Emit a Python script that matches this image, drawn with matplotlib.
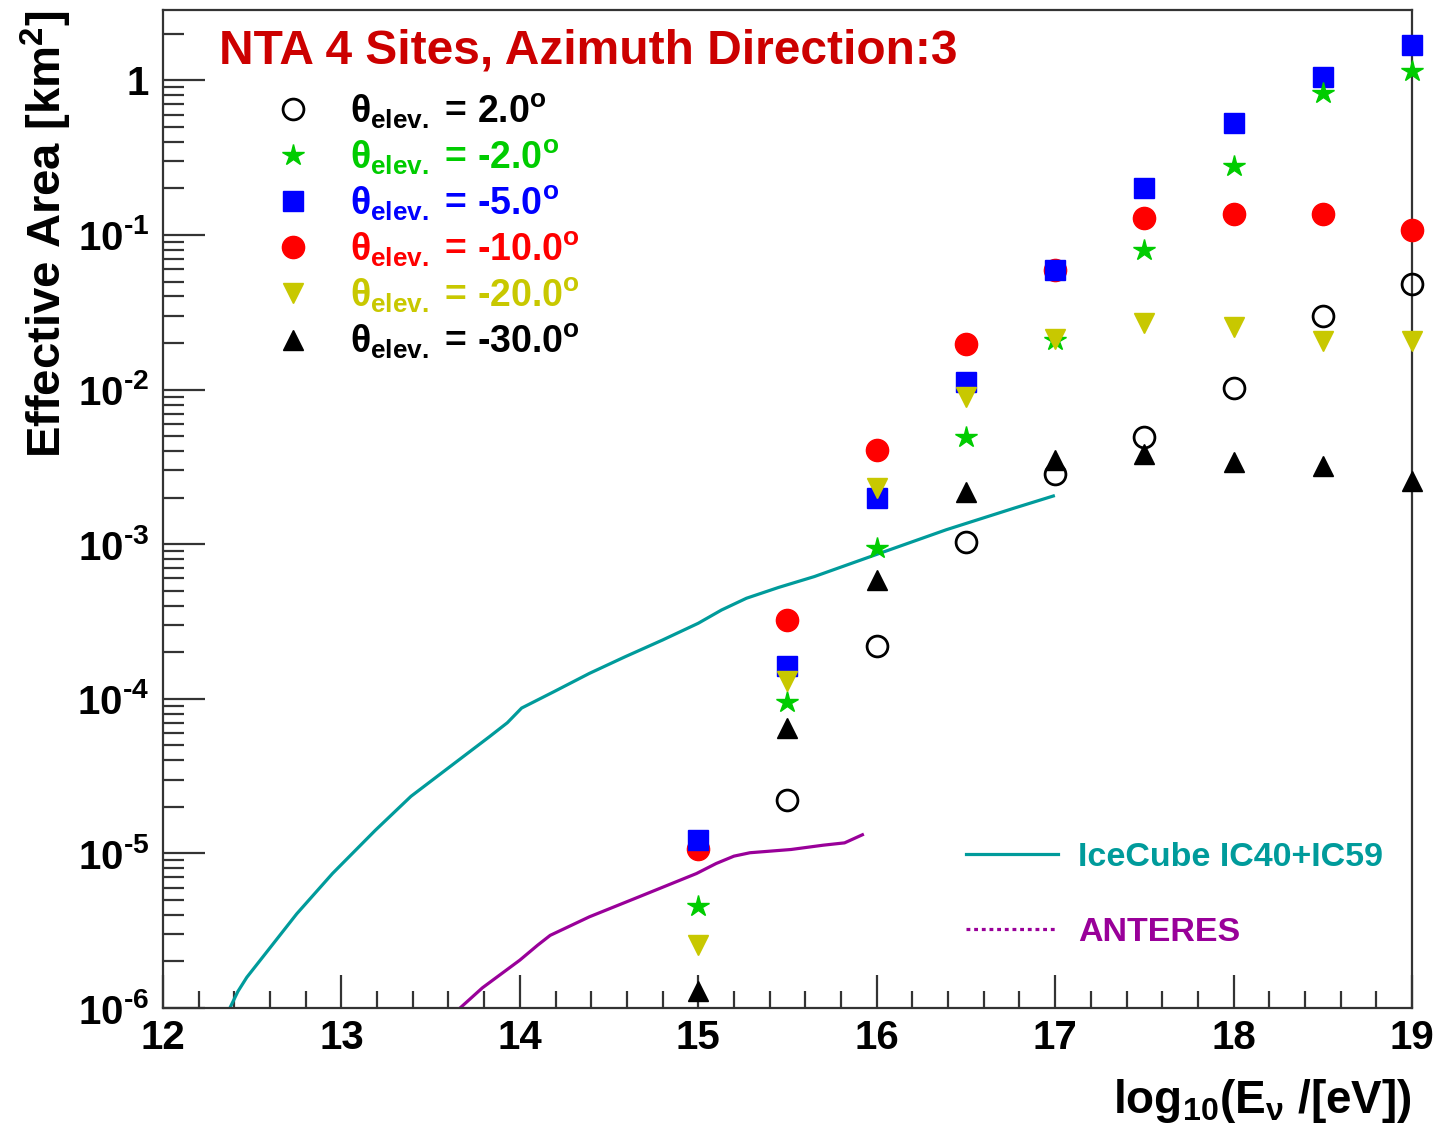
import matplotlib
matplotlib.use("Agg")
import matplotlib.pyplot as plt
from matplotlib.lines import Line2D
from matplotlib.ticker import FixedLocator, FuncFormatter, NullFormatter
import numpy as np

plt.rcParams['font.family'] = ['Liberation Sans', 'DejaVu Sans']
plt.rcParams['font.weight'] = 'bold'
plt.rcParams['axes.labelweight'] = 'bold'
plt.rcParams['axes.unicode_minus'] = False
plt.rcParams['mathtext.fontset'] = 'custom'
plt.rcParams['mathtext.rm'] = 'Liberation Sans:bold'
plt.rcParams['mathtext.it'] = 'Liberation Sans:bold'
plt.rcParams['mathtext.bf'] = 'Liberation Sans:bold'
plt.rcParams['mathtext.sf'] = 'Liberation Sans:bold'

# log10(E_nu / eV)
energy = [15.0, 15.5, 16.0, 16.5, 17.0, 17.5, 18.0, 18.5, 19.0]

# effective area [km^2] per elevation angle
area_p2 = [np.nan, 2.2e-5, 2.2e-4, 1.03e-3, 2.84e-3, 4.9e-3, 1.03e-2, 3.0e-2, 4.8e-2]
area_m2 = [4.6e-6, 9.5e-5, 9.4e-4, 4.9e-3, 2.1e-2, 8.0e-2, 0.28, 0.83, 1.15]
area_m5 = [1.22e-5, 1.63e-4, 2.0e-3, 1.12e-2, 5.9e-2, 0.20, 0.53, 1.05, 1.69]
area_m10 = [1.07e-5, 3.24e-4, 4.06e-3, 1.97e-2, 5.9e-2, 0.129, 0.137, 0.137, 0.108]
area_m20 = [2.56e-6, 1.30e-4, 2.31e-3, 8.95e-3, 2.12e-2, 2.70e-2, 2.54e-2, 2.06e-2, 2.06e-2]
area_m30 = [1.29e-6, 6.5e-5, 5.9e-4, 2.18e-3, 3.51e-3, 3.83e-3, 3.40e-3, 3.21e-3, 2.56e-3]

# IceCube IC40+IC59 effective area
icecube_e = [12.375, 12.42, 12.47, 12.59, 12.75, 12.95, 13.19, 13.39, 13.63, 13.83, 13.93,
             14.01, 14.19, 14.39, 14.59, 14.80, 15.00, 15.13, 15.27, 15.45, 15.65, 15.99,
             16.39, 16.77, 16.99]
icecube_a = [1.0e-6, 1.28e-6, 1.58e-6, 2.37e-6, 4.07e-6, 7.41e-6, 1.41e-5, 2.34e-5, 3.80e-5,
             5.69e-5, 7.0e-5, 8.71e-5, 1.11e-4, 1.46e-4, 1.87e-4, 2.40e-4, 3.08e-4, 3.75e-4,
             4.47e-4, 5.25e-4, 6.17e-4, 8.51e-4, 1.24e-3, 1.71e-3, 2.05e-3]

# ANTARES effective area
antares_e = [13.665, 13.79, 14.00, 14.10, 14.17, 14.39, 14.67, 14.99, 15.10, 15.20, 15.29,
             15.52, 15.70, 15.82, 15.92]
antares_a = [1.0e-6, 1.35e-6, 2.04e-6, 2.55e-6, 2.95e-6, 3.89e-6, 5.25e-6, 7.41e-6, 8.6e-6,
             9.6e-6, 1.01e-5, 1.06e-5, 1.13e-5, 1.17e-5, 1.32e-5]

labels = [r'$\theta_{elev.}$ = 2.0$^{o}$', r'$\theta_{elev.}$ = -2.0$^{o}$',
          r'$\theta_{elev.}$ = -5.0$^{o}$', r'$\theta_{elev.}$ = -10.0$^{o}$',
          r'$\theta_{elev.}$ = -20.0$^{o}$', r'$\theta_{elev.}$ = -30.0$^{o}$']

fig = plt.figure(figsize=(14.37, 11.39), dpi=100)
ax = fig.add_axes([0.1134, 0.115, 0.8692, 0.8762])

teal = '#009b9b'
purple = '#990099'
green = '#00cc00'
yellow = '#c8c800'

ax.plot(icecube_e, icecube_a, color=teal, lw=2.3, zorder=2)
ax.plot(antares_e, antares_a, color=purple, lw=2.3, zorder=2)

kw = dict(ls='none', clip_on=False, zorder=3)
h_m10, = ax.plot(energy, area_m10, marker='o', ms=16, color='#ff0000', mec='#ff0000', **kw)
h_m5, = ax.plot(energy, area_m5, marker='s', ms=14, color='#0000ff', mec='#0000ff', **kw)
h_m2, = ax.plot(energy, area_m2, marker='*', ms=16, color=green, mec=green, **kw)
h_m20, = ax.plot(energy, area_m20, marker='v', ms=15, color=yellow, mec=yellow, **kw)
h_m30, = ax.plot(energy, area_m30, marker='^', ms=15, color='black', mec='black', **kw)
h_p2, = ax.plot(energy, area_p2, marker='o', ms=15, mfc='none', mec='black', mew=2, **kw)

ax.set_yscale('log')
ax.set_xlim(12, 19)
ax.set_ylim(1e-6, 2.85)

decades = 10.0 ** np.arange(-6, 1)
ax.xaxis.set_major_locator(FixedLocator(range(12, 20)))
ax.xaxis.set_minor_locator(FixedLocator(np.arange(12, 19.01, 0.2)))
ax.yaxis.set_major_locator(FixedLocator(decades))
ax.yaxis.set_minor_locator(FixedLocator([d * k for d in decades for k in range(2, 10)
                                         if d * k < 2.85]))
ax.yaxis.set_minor_formatter(NullFormatter())


def ylab(v, pos):
    e = int(round(np.log10(v)))
    return '1' if e == 0 else r'$10^{\text{%d}}$' % e


ax.yaxis.set_major_formatter(FuncFormatter(ylab))

for s in ax.spines.values():
    s.set_color('#333333')
    s.set_linewidth(1.6)
ax.tick_params(which='both', direction='in', color='#333333', width=1.6, top=False, right=False)
ax.tick_params(axis='y', which='major', length=30, labelsize=29, pad=10)
ax.tick_params(axis='y', which='minor', length=15)
ax.tick_params(axis='x', which='major', length=24, labelsize=29, pad=8)
ax.tick_params(axis='x', which='minor', length=12)

ax.set_ylabel(r'Effective Area [km$^{2}$]', fontsize=34, loc='top', labelpad=2)
ax.set_xlabel(r'log$_{10}$(E$_{\nu}$ /[eV])', fontsize=33, loc='right', labelpad=14)

ax.text(0.045, 0.959, 'NTA 4 Sites, Azimuth Direction:3', transform=ax.transAxes,
        color='#cc0000', fontsize=34.5, va='center', ha='left')

handles = [h_p2, h_m2, h_m5, h_m10, h_m20, h_m30]
leg1 = ax.legend(handles, labels, loc='upper left', bbox_to_anchor=(0.089, 0.919),
                 frameon=False, fontsize=27, labelcolor='markeredgecolor',
                 handlelength=1.0, handletextpad=1.02, labelspacing=0.17,
                 borderpad=0, borderaxespad=0)
ax.add_artist(leg1)

exp_handles = [Line2D([], [], color=teal, lw=2.3),
               Line2D([], [], color=purple, lw=2.3, ls=(0, (1.2, 1.2)))]
leg2 = ax.legend(exp_handles, ['IceCube IC40+IC59', 'ANTERES'], loc='lower left',
                 bbox_to_anchor=(0.643, 0.06), frameon=False, fontsize=24.5,
                 labelcolor=[teal, purple], handlelength=2.7, handletextpad=0.6,
                 labelspacing=1.3, borderpad=0, borderaxespad=0)

fig.savefig('out.png', dpi=100)
